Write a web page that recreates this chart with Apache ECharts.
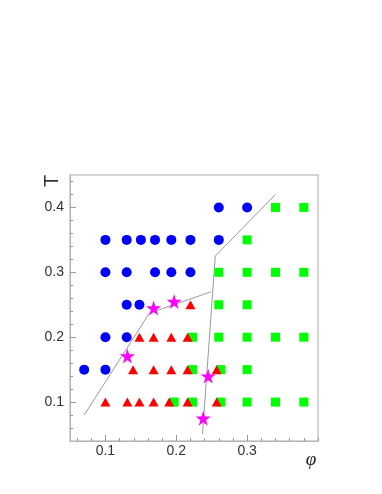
<!DOCTYPE html>
<html>
<head>
<meta charset="utf-8">
<script src="https://cdn.jsdelivr.net/npm/echarts@6/dist/echarts.min.js"></script>
<style>
html,body{margin:0;padding:0;background:#fff;}
#chart{width:382px;height:494px;}
</style>
</head>
<body>
<div id="chart"></div>
<script>
// ---- data: [phi, T] ----
const circles = [
  [0.26,0.40],[0.30,0.40],
  [0.10,0.35],[0.13,0.35],[0.15,0.35],[0.17,0.35],[0.193,0.35],[0.22,0.35],[0.26,0.35],
  [0.10,0.30],[0.13,0.30],[0.17,0.30],[0.193,0.30],[0.22,0.30],
  [0.13,0.25],[0.148,0.25],
  [0.10,0.20],[0.13,0.20],
  [0.07,0.15],[0.10,0.15]
];
const squares = [
  [0.34,0.40],[0.38,0.40],
  [0.30,0.35],
  [0.26,0.30],[0.30,0.30],[0.34,0.30],[0.38,0.30],
  [0.26,0.25],[0.30,0.25],
  [0.223,0.20],[0.26,0.20],[0.30,0.20],[0.34,0.20],[0.38,0.20],
  [0.223,0.15],[0.263,0.15],[0.30,0.15],
  [0.197,0.10],[0.223,0.10],[0.263,0.10],[0.30,0.10],[0.34,0.10],[0.38,0.10]
];
const triangles = [
  [0.22,0.25],
  [0.148,0.20],[0.168,0.20],[0.193,0.20],[0.216,0.20],
  [0.139,0.15],[0.168,0.15],[0.193,0.15],[0.216,0.15],[0.257,0.15],
  [0.10,0.10],[0.131,0.10],[0.148,0.10],[0.168,0.10],[0.19,0.10],[0.216,0.10],[0.257,0.10]
];
const stars = [[0.131,0.171],[0.168,0.245],[0.197,0.255],[0.245,0.140],[0.238,0.075]];
const boundaryLeft = [[0.070,0.080],[0.162,0.237],[0.249,0.270]];
const boundaryRight = [[0.237,0.051],[0.255,0.325],[0.340,0.420]];
const xTickLabels = [0.1,0.2,0.3];
const xMinorTicks = [0.06,0.08,0.12,0.14,0.16,0.18,0.22,0.24,0.26,0.28,0.32,0.34,0.36,0.38,0.40];
const yTickLabels = [0.1,0.2,0.3,0.4];
const yMinorTicks = [0.06,0.08,0.12,0.14,0.16,0.18,0.22,0.24,0.26,0.28,0.32,0.34,0.36,0.38,0.42,0.44];
const xTitle = 'φ';
const yTitle = 'T';

const X_MIN = 0.05, X_MAX = 0.40, Y_MIN = 0.04, Y_MAX = 0.45;
const axisColor = '#b4b4b4';
const labelStyle = {color:'#333', fontFamily:'Liberation Sans, Arial, sans-serif', fontSize:14};
const starPath = 'path://M50,0 L61,35 L98,35 L68,57 L79,91 L50,70 L21,91 L32,57 L2,35 L39,35 Z';

const chart = echarts.init(document.getElementById('chart'), null, {renderer:'canvas'});
chart.setOption({
  animation:false,
  backgroundColor:'#fff',
  grid:{left:70, right:64, top:175, bottom:53, show:true, borderColor:'#c8c8c8', borderWidth:1.5, backgroundColor:'transparent'},
  xAxis:[
    {type:'value', min:X_MIN, max:X_MAX, position:'bottom',
     axisLine:{show:true, lineStyle:{color:axisColor, width:1}},
     axisTick:{show:true, inside:true, length:6, customValues:xTickLabels, lineStyle:{color:'#999'}},
     axisLabel:{customValues:xTickLabels, margin:3, formatter:v=>v.toFixed(1), ...labelStyle},
     splitLine:{show:false}},
    {type:'value', min:X_MIN, max:X_MAX, position:'bottom',
     axisLine:{show:false},
     axisTick:{show:true, inside:true, length:3, customValues:xMinorTicks, lineStyle:{color:'#999'}},
     axisLabel:{show:false}, splitLine:{show:false}}
  ],
  yAxis:[
    {type:'value', min:Y_MIN, max:Y_MAX, position:'left',
     axisLine:{show:true, lineStyle:{color:axisColor, width:1}},
     axisTick:{show:true, inside:true, length:6, customValues:yTickLabels, lineStyle:{color:'#999'}},
     axisLabel:{customValues:yTickLabels, margin:6, formatter:v=>v.toFixed(1), ...labelStyle},
     splitLine:{show:false}},
    {type:'value', min:Y_MIN, max:Y_MAX, position:'left',
     axisLine:{show:false},
     axisTick:{show:true, inside:true, length:3, customValues:yMinorTicks, lineStyle:{color:'#999'}},
     axisLabel:{show:false}, splitLine:{show:false}}
  ],
  graphic:[
    {type:'text', x:52, y:181, rotation:Math.PI/2,
     style:{text:yTitle, fill:'#333', align:'center', verticalAlign:'middle', font:'20px Liberation Sans, Arial, sans-serif'}},
    {type:'text', x:311, y:460,
     style:{text:xTitle, fill:'#222', align:'center', verticalAlign:'middle', font:'italic 19px Liberation Serif, DejaVu Serif, serif'}}
  ],
  series:[
    {type:'line', data:boundaryLeft, symbol:'none', lineStyle:{color:'#9a9a9a', width:1}, z:1},
    {type:'line', data:boundaryRight, symbol:'none', lineStyle:{color:'#9a9a9a', width:1}, z:1},
    {type:'scatter', data:circles, symbol:'circle', symbolSize:10, itemStyle:{color:'#0000ff', opacity:1}, z:2},
    {type:'scatter', data:squares, symbol:'rect', symbolSize:9, itemStyle:{color:'#00ff00', opacity:1}, z:2},
    {type:'scatter', data:triangles, symbol:'triangle', symbolSize:[10,9], itemStyle:{color:'#ff0000', opacity:1}, z:3},
    {type:'scatter', data:stars, symbol:starPath, symbolSize:15, itemStyle:{color:'#ff00ff', opacity:1}, z:4}
  ]
});
</script>
</body>
</html>
